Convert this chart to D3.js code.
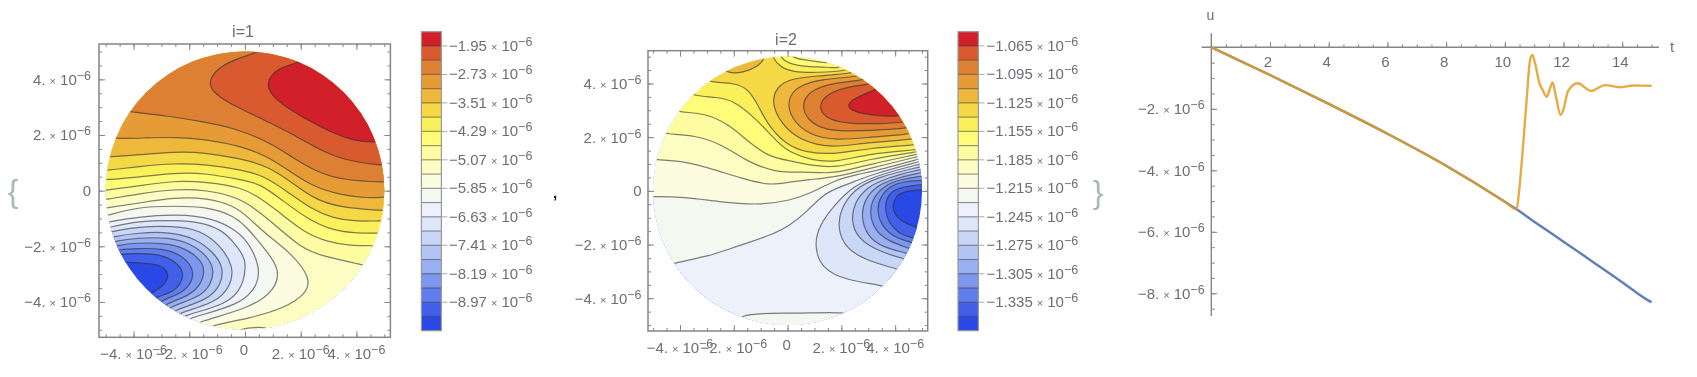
<!DOCTYPE html>
<html><head><meta charset="utf-8">
<style>html,body{margin:0;padding:0;background:#fff}svg{display:block;filter:blur(0.65px)}text{font-family:"Liberation Sans",Arial,sans-serif}</style>
<script src="https://cdn.jsdelivr.net/npm/d3@7"></script></head><body>
<script>
const bandColors=["#d1202a","#d95a2f","#de8034","#e69b37","#eeb83c","#f5d846","#faf05a","#fefc78","#fefca0","#fdfcc3","#fcfce1","#f5f8f0","#ecf1fc","#dee6fa","#c8d6f7","#b2c5f5","#98aff2","#7d96ee","#5f7dec","#415fe8","#2a48e6"];
const labels1=["−1.95","−2.73","−3.51","−4.29","−5.07","−5.85","−6.63","−7.41","−8.19","−8.97"];
const labels2=["−1.065","−1.095","−1.125","−1.155","−1.185","−1.215","−1.245","−1.275","−1.305","−1.335"];
const discTicks=[-4,-2,0,2,4];
const discMinor=d3.range(-5,5.01,0.5);
const tValues=[0,2,4,6,8,10,10.4,11,12,13,14,14.9,15];
const uBlue=[0,-0.90,-1.84,-2.81,-3.85,-5.02,-5.27,-5.67,-6.32,-6.98,-7.64,-8.24,-8.29];
const tOrange=[0,2,4,6,8,10,10.4,10.49,10.63,10.75,10.86,10.94,11.03,11.18,11.29,11.43,11.52,11.63,11.72,11.9,11.99,12.16,12.48,12.94,13.41,13.92,14.38,14.95,15];
const uOrange=[0,-0.90,-1.84,-2.81,-3.85,-5.02,-5.27,-4.64,-3.1,-1.61,-0.41,-0.25,-0.52,-1.17,-1.39,-1.61,-1.39,-1.14,-1.50,-2.20,-2.04,-1.41,-1.17,-1.42,-1.23,-1.30,-1.24,-1.25,-1.25];
const lineTicksX=[2,4,6,8,10,12,14];
const lineTicksY=[-2,-4,-6,-8];

const panel1Lines=[
[[1.92,4.59],[1.22,4.41],[0.77,3.87],[1.09,3.27],[2.22,2.55],[3.18,2.07],[3.89,1.81],[4.67,1.74]],
[[0.51,4.98],[-0.58,4.65],[-1.22,4.11],[-1.22,3.63],[-0.58,3.15],[0.67,2.55],[1.62,2.07],[2.58,1.53],[3.54,1.11],[4.91,0.91]],
[[-4.12,2.82],[-2.80,2.69],[-1.61,2.49],[-0.41,2.25],[0.90,1.71],[1.74,1.17],[2.58,0.69],[3.54,0.39],[5.03,0.31]],
[[-4.63,1.87],[-3.64,1.89],[-2.56,1.92],[-1.37,1.83],[-0.17,1.59],[0.78,1.23],[1.62,0.69],[2.46,0.16],[3.42,-0.14],[4.37,-0.26],[5.03,-0.23]],
[[-4.86,1.21],[-3.76,1.29],[-2.56,1.39],[-1.37,1.35],[-0.17,1.14],[0.78,0.87],[1.62,0.34],[2.46,-0.26],[3.42,-0.59],[4.97,-0.71]],
[[-4.96,0.73],[-3.76,0.87],[-2.56,0.97],[-1.37,0.93],[-0.17,0.75],[0.67,0.51],[1.50,-0.02],[2.34,-0.62],[3.18,-0.98],[4.01,-1.10],[4.91,-1.08]],
[[-4.99,0.39],[-3.76,0.49],[-2.56,0.63],[-1.37,0.61],[-0.17,0.39],[0.55,0.22],[1.38,-0.38],[2.22,-0.98],[3.06,-1.38],[3.89,-1.52],[4.79,-1.52]],
[[-5.03,0.01],[-3.76,0.18],[-2.56,0.34],[-1.37,0.30],[-0.17,0.10],[0.43,-0.20],[1.26,-0.80],[2.10,-1.46],[2.94,-1.82],[3.78,-1.97],[4.61,-1.97]],
[[-4.99,-0.32],[-3.76,-0.11],[-2.56,0.04],[-1.37,0.01],[-0.29,-0.26],[0.31,-0.62],[1.14,-1.28],[1.98,-2.00],[2.82,-2.36],[4.25,-2.66]],
[[-4.96,-0.62],[-3.76,-0.44],[-2.56,-0.26],[-1.37,-0.28],[-0.41,-0.56],[0.13,-0.98],[0.78,-1.58],[1.62,-2.24],[2.28,-3.08],[2.18,-3.68],[1.35,-4.22],[0.19,-4.57],[-1.28,-4.87]],
[[-4.97,-0.90],[-3.82,-0.60],[-2.56,-0.56],[-1.37,-0.60],[-0.41,-0.92],[0.13,-1.40],[0.78,-2.18],[1.20,-2.84],[1.03,-3.56],[0.12,-4.21],[-1.69,-4.72]],
[[-4.92,-1.13],[-3.82,-0.95],[-2.45,-0.86],[-1.19,-1.00],[-0.29,-1.46],[0.19,-2.00],[0.49,-2.72],[0.43,-3.38],[-0.23,-4.09],[-2.03,-4.58]],
[[-4.86,-1.32],[-3.82,-1.10],[-2.51,-1.07],[-1.60,-1.15],[-0.89,-1.40],[-0.41,-1.85],[-0.05,-2.36],[0.01,-2.72],[-0.09,-3.38],[-0.65,-4.06],[-2.21,-4.49]],
[[-4.81,-1.48],[-3.82,-1.30],[-2.57,-1.28],[-1.61,-1.45],[-0.89,-2.00],[-0.45,-2.72],[-0.53,-3.38],[-1.07,-4.01],[-2.36,-4.39]],
[[-4.75,-1.66],[-3.82,-1.52],[-2.69,-1.50],[-1.79,-1.74],[-1.13,-2.24],[-0.80,-2.78],[-0.89,-3.38],[-1.37,-3.91],[-2.53,-4.30]],
[[-4.68,-1.82],[-3.82,-1.70],[-2.75,-1.70],[-1.97,-1.91],[-1.37,-2.36],[-1.13,-2.84],[-1.25,-3.38],[-1.67,-3.82],[-2.69,-4.18]],
[[-4.60,-1.97],[-3.82,-1.88],[-2.86,-1.90],[-2.15,-2.09],[-1.61,-2.48],[-1.46,-2.90],[-1.61,-3.38],[-2.03,-3.77],[-2.83,-4.07]],
[[-4.52,-2.12],[-3.82,-2.08],[-2.98,-2.09],[-2.33,-2.30],[-1.88,-2.78],[-1.91,-3.26],[-2.27,-3.67],[-2.98,-3.94]],
[[-4.45,-2.27],[-3.82,-2.26],[-3.04,-2.30],[-2.48,-2.57],[-2.21,-2.96],[-2.33,-3.38],[-2.68,-3.67],[-3.16,-3.82]],
[[-4.36,-2.57],[-3.70,-2.60],[-3.10,-2.66],[-2.80,-2.90],[-2.77,-3.14],[-2.96,-3.43],[-3.34,-3.67]]
];
const panel1Patches=[[11,[[0.83,-4.90],[-0.19,-4.96]]]];

const panel2Lines=[
[[3.25,3.76],[2.57,3.49],[2.20,3.17],[2.57,2.92],[3.31,2.81],[4.12,2.77]],
[[3.04,3.97],[2.20,3.86],[1.46,3.58],[1.18,3.14],[1.46,2.71],[2.20,2.52],[3.31,2.50],[4.31,2.55]],
[[2.84,4.13],[1.70,4.01],[0.84,3.70],[0.56,3.20],[0.77,2.64],[1.46,2.27],[2.57,2.23],[4.43,2.33]],
[[2.63,4.26],[1.33,4.16],[0.40,3.89],[0.03,3.39],[0.15,2.71],[0.84,2.09],[1.83,1.90],[3.07,2.00],[4.55,2.12]],
[[2.42,4.38],[1.08,4.28],[-0.03,4.13],[-0.46,3.70],[-0.53,3.27],[-0.34,2.71],[0.28,2.02],[1.15,1.71],[1.83,1.65],[3.07,1.80],[4.65,1.92]],
[[-2.88,4.05],[-2.01,4.01],[-1.46,3.76],[-1.08,3.14],[-0.71,2.46],[-0.09,1.78],[0.71,1.44],[1.83,1.38],[3.07,1.59],[4.74,1.71]],
[[-3.48,3.55],[-2.63,3.48],[-2.01,3.33],[-1.21,2.71],[-0.34,1.78],[0.09,1.46],[0.90,1.15],[1.83,1.09],[3.07,1.38],[4.80,1.53]],
[[-4.00,2.93],[-3.07,2.87],[-2.20,2.46],[-1.46,1.84],[-0.71,1.30],[0.09,1.12],[0.90,0.95],[1.83,0.88],[3.07,1.18],[4.84,1.46]],
[[-4.49,2.12],[-3.44,2.05],[-2.45,1.71],[-1.46,1.09],[-0.47,0.72],[0.53,0.70],[1.20,0.68],[1.83,0.68],[3.07,0.99],[4.86,1.37]],
[[-4.83,1.15],[-3.81,1.09],[-2.70,0.78],[-1.70,0.47],[-0.71,0.22],[0.09,0.33],[0.80,0.42],[1.83,0.53],[3.07,0.84],[4.86,1.28]],
[[-4.96,-0.21],[-3.81,-0.24],[-2.57,-0.40],[-1.08,-0.52],[0.09,-0.34],[0.84,-0.09],[1.75,0.38],[2.57,0.60],[3.56,0.82],[4.86,1.18]],
[[-4.18,-2.67],[-3.01,-2.45],[-1.91,-2.07],[-0.67,-1.66],[0.09,-1.27],[0.71,-0.77],[1.33,-0.15],[1.90,0.12],[2.50,0.35],[3.19,0.62],[4.86,1.08]],
[[3.56,-3.53],[2.20,-3.31],[1.33,-2.88],[1.02,-2.07],[1.21,-1.27],[1.77,-0.52],[2.45,0.16],[3.44,0.60],[4.86,0.98]],
[[4.12,-2.92],[3.07,-2.63],[2.20,-2.14],[1.89,-1.39],[2.01,-0.65],[2.51,0.04],[3.31,0.48],[4.86,0.88]],
[[4.37,-2.54],[3.44,-2.26],[2.63,-1.76],[2.39,-1.08],[2.51,-0.46],[2.94,0.10],[3.69,0.47],[4.86,0.78]],
[[4.45,-2.32],[3.56,-2.10],[2.97,-1.64],[2.76,-0.96],[2.88,-0.34],[3.31,0.16],[3.93,0.43],[4.86,0.66]],
[[4.53,-2.14],[3.81,-1.89],[3.25,-1.45],[3.07,-0.83],[3.19,-0.27],[3.62,0.19],[4.18,0.41],[4.86,0.53]],
[[4.62,-1.92],[4.00,-1.73],[3.54,-1.33],[3.34,-0.77],[3.46,-0.21],[3.87,0.19],[4.37,0.35],[4.86,0.38]],
[[4.68,-1.76],[4.18,-1.60],[3.79,-1.20],[3.62,-0.65],[3.75,-0.15],[4.12,0.10],[4.86,0.22]],
[[4.80,-1.35],[4.31,-1.18],[4.00,-0.89],[3.91,-0.58],[4.03,-0.21],[4.37,-0.02],[4.99,0.04]]
];
const panel2Patches=[
[5,[[-2.26,4.41],[-1.64,4.41],[-1.15,4.63],[-0.87,4.90]]],
[7,[[-0.53,4.94],[-0.25,4.61],[0.22,4.44],[1.08,4.41],[2.22,4.48]]],
[8,[[-0.25,4.98],[0.09,4.73],[0.71,4.63],[1.46,4.61],[1.91,4.57]]],
[9,[[0.15,5.00],[0.59,4.88],[1.08,4.82],[1.55,4.75]]],
[12,[[2.14,-4.52],[0.43,-4.56],[-0.95,-4.56],[-1.70,-4.66]]]
];

const W=1697,H=377,gray="#6d6d76",axisGray="#85858a";
const svg=d3.select("body").append("svg").attr("width",W).attr("height",H);

function sci(g,x,y,mant,anchor,fill){
  const t=g.append("text").attr("x",x).attr("y",y).attr("text-anchor",anchor).attr("fill",fill||gray).attr("font-size",15);
  t.append("tspan").text(mant);
  t.append("tspan").attr("dx",4).attr("font-size",11).text("×");
  t.append("tspan").attr("dx",4).text("10");
  t.append("tspan").attr("dy",-5).attr("font-size",12.5).text("−6");
}

function disc(id,frame,lines,patches,title,titlePos,yRight,xBase,zeroBase){
  const g=svg.append("g");
  const x=d3.scaleLinear().domain(frame.dx).range([frame.x0,frame.x1]);
  const y=d3.scaleLinear().domain(frame.dy).range([frame.y1,frame.y0]);
  const R=5;
  g.append("clipPath").attr("id",id).append("ellipse")
    .attr("cx",x(0)).attr("cy",y(0)).attr("rx",x(R)-x(0)).attr("ry",y(0)-y(R));
  const c=g.append("g").attr("clip-path",`url(#${id})`);
  c.append("rect").attr("x",frame.x0).attr("y",frame.y0).attr("width",frame.x1-frame.x0).attr("height",frame.y1-frame.y0).attr("fill",bandColors[20]);
  const curve=d3.line().x(d=>x(d[0])).y(d=>y(d[1])).curve(d3.curveBasis);
  const radial=(p,k)=>{const a=Math.atan2(p[1],p[0]);return [k*R*Math.cos(a),k*R*Math.sin(a)];};
  const ext=pts=>{
    const e=[radial(pts[0],1.04),...pts,radial(pts[pts.length-1],1.04)];
    return e.map((p,i)=>(i===0||i===e.length-1)?p:[0,1].map(k=>p[k]+(2*p[k]-e[i-1][k]-e[i+1][k])/12));
  };
  function region(pts){
    const e=ext(pts),s=e[0],t=e[e.length-1];
    let a0=Math.atan2(t[1],t[0]),a1=Math.atan2(s[1],s[0]);
    if(a1<=a0)a1+=2*Math.PI;
    const arc=d3.range(a0,a1,0.08).concat([a1]).map(a=>[1.25*R*Math.cos(a),1.25*R*Math.sin(a)]);
    return curve(e)+arc.map(p=>"L"+x(p[0])+","+y(p[1])).join("")+"Z";
  }
  const all=[];
  for(let i=lines.length-1;i>=0;i--)all.push([i,lines[i]]);
  patches.forEach(p=>all.push([p[0]-1,p[1]]));
  all.forEach(([b,pts])=>c.append("path").attr("d",region(pts)).attr("fill",bandColors[b]));
  all.forEach(([b,pts])=>c.append("path").attr("d",curve(ext(pts))).attr("fill","none").attr("stroke","#2c2c2c").attr("stroke-opacity",0.6).attr("stroke-width",1.2));
  g.append("rect").attr("x",frame.x0).attr("y",frame.y0).attr("width",frame.x1-frame.x0).attr("height",frame.y1-frame.y0).attr("fill","none").attr("stroke",axisGray).attr("stroke-width",1.5);
  const sides=[[d3.axisBottom(x),0,frame.y1],[d3.axisTop(x),0,frame.y0],[d3.axisLeft(y),frame.x0,0],[d3.axisRight(y),frame.x1,0]];
  sides.forEach(([ax,tx,ty])=>{
    [[discMinor,-3],[discTicks,-6]].forEach(([vals,len])=>{
      const a=g.append("g").attr("transform",`translate(${tx},${ty})`)
       .call(ax.tickValues(vals).tickSizeInner(len).tickSizeOuter(0).tickFormat(""));
      a.select(".domain").remove();
      a.selectAll("line").attr("stroke",axisGray).attr("stroke-width",1);
    });
  });
  discTicks.forEach(v=>{
    if(v===0){
      g.append("text").attr("x",yRight).attr("y",y(0)+5.5).attr("text-anchor","end").attr("fill",gray).attr("font-size",15).text("0");
      g.append("text").attr("x",x(0)-1).attr("y",zeroBase).attr("text-anchor","middle").attr("fill",gray).attr("font-size",15).text("0");
    }else{
      const m=(v<0?"−":"")+Math.abs(v)+".";
      sci(g,yRight,y(v)+5.5,m,"end");
      sci(g,x(v),xBase,m,"middle");
    }
  });
  g.append("text").attr("x",titlePos[0]).attr("y",titlePos[1]).attr("text-anchor","middle").attr("fill",gray).attr("font-size",16).text(title);
}
function colorbar(x0,x1,labels,labelX){
  const g=svg.append("g");
  const b=d3.scaleBand().domain(d3.range(21)).range([31.7,330.7]);
  g.selectAll("rect.b").data(bandColors).join("rect").attr("class","b")
    .attr("x",x0).attr("width",x1-x0).attr("y",(d,i)=>b(i)).attr("height",b.bandwidth()+0.2).attr("fill",d=>d);
  g.selectAll("line.s").data(d3.range(1,21)).join("line").attr("x1",x0).attr("x2",x1)
    .attr("y1",i=>b(i)).attr("y2",i=>b(i)).attr("stroke","#333").attr("stroke-opacity",0.55).attr("stroke-width",1.1);
  g.append("rect").attr("x",x0).attr("y",31.7).attr("width",x1-x0).attr("height",299).attr("fill","none").attr("stroke","#999").attr("stroke-width",1.2);
  labels.forEach((m,k)=>{
    const yy=b(2*k+1);
    g.append("line").attr("x1",x1).attr("x2",x1+6).attr("y1",yy).attr("y2",yy).attr("stroke","#aaa");
    sci(g,labelX,yy+5,m,"start");
  });
}
disc("c1",{x0:99,x1:390.4,y0:44,y1:337.3,dx:[-5.24,5.22],dy:[-5.27,5.27]},panel1Lines,panel1Patches,"i=1",[243,37],91,358.5,355);
colorbar(421.4,441.4,labels1,449);
disc("c2",{x0:648,x1:927.7,y0:50.7,y1:331,dx:[-5.19,5.21],dy:[-5.22,5.22]},panel2Lines,panel2Patches,"i=2",[786,45],641.5,353,350);
colorbar(958,978.4,labels2,986.5);

const tx=d3.scaleLinear().domain([0,15]).range([1211.3,1651.6]);
const uy=d3.scaleLinear().domain([0,-8]).range([47.3,293.3]);
const lg=svg.append("g");
[[d3.range(0.5,15.3,0.5),-3],[lineTicksX,-5.5]].forEach(([v,l])=>{
  const a=lg.append("g").attr("transform","translate(0,47.3)").call(d3.axisBottom(tx).tickValues(v).tickSizeInner(l).tickSizeOuter(0).tickFormat(""));
  a.select(".domain").remove();a.selectAll("line").attr("stroke",axisGray);
});
[[d3.range(-8.5,0,0.5),3.5],[lineTicksY,6]].forEach(([v,l])=>{
  const a=lg.append("g").attr("transform","translate(1211.3,0)").call(d3.axisRight(uy).tickValues(v).tickSizeInner(l).tickSizeOuter(0).tickFormat(""));
  a.select(".domain").remove();a.selectAll("line").attr("stroke",axisGray);
});
lg.append("line").attr("x1",tx(-0.33)).attr("x2",tx(15.25)).attr("y1",uy(0)).attr("y2",uy(0)).attr("stroke",axisGray).attr("stroke-width",1.4);
lg.append("line").attr("x1",tx(0)).attr("x2",tx(0)).attr("y1",uy(0.46)).attr("y2",uy(-8.74)).attr("stroke",axisGray).attr("stroke-width",1.4);
const ln=d3.line().x(d=>tx(d[0])).y(d=>uy(d[1])).curve(d3.curveMonotoneX);
lg.append("path").attr("d",ln(d3.zip(tValues,uBlue))).attr("fill","none").attr("stroke","#5e81b5").attr("stroke-width",2.4);
lg.append("path").attr("d",ln(d3.zip(tOrange,uOrange))).attr("fill","none").attr("stroke","#e19c24").attr("stroke-opacity",0.85).attr("stroke-width",2.4);
lineTicksX.forEach(v=>lg.append("text").attr("x",tx(v)-2).attr("y",66.5).attr("text-anchor","middle").attr("fill",gray).attr("font-size",15).text(v));
lineTicksY.forEach(v=>sci(lg,1204.6,uy(v)+5.5,"−"+Math.abs(v)+".","end"));
lg.append("text").attr("x",1210.5).attr("y",20).attr("text-anchor","middle").attr("fill",gray).attr("font-size",14).text("u");
lg.append("text").attr("x",1672).attr("y",52).attr("text-anchor","middle").attr("fill",gray).attr("font-size",15).text("t");
svg.append("text").attr("x",13).attr("y",202).attr("text-anchor","middle").attr("fill","#a8b8b8").attr("font-size",32).attr("font-weight",300).text("{");
svg.append("text").attr("x",1098).attr("y",203).attr("text-anchor","middle").attr("fill","#a8b8b8").attr("font-size",32).attr("font-weight",300).text("}");
svg.append("text").attr("x",555).attr("y",198).attr("text-anchor","middle").attr("fill","#111").attr("font-size",15).attr("font-weight",700).text(",");
</script></body></html>
